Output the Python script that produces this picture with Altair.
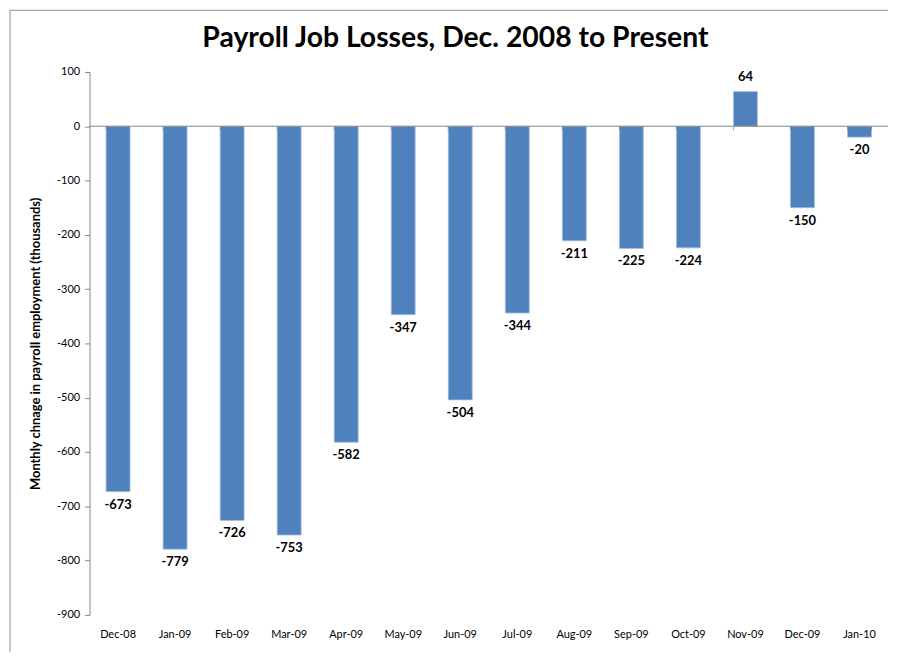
import altair as alt
import pandas as pd

months = ["Dec-08", "Jan-09", "Feb-09", "Mar-09", "Apr-09", "May-09", "Jun-09",
          "Jul-09", "Aug-09", "Sep-09", "Oct-09", "Nov-09", "Dec-09", "Jan-10"]
changes = [-673, -779, -726, -753, -582, -347, -504, -344, -211, -225, -224, 64, -150, -20]
y_ticks = list(range(-900, 101, 100))
title_text = ["Payroll Job Losses, Dec. 2008 to Present"]

df = pd.DataFrame({"month": months, "change": changes,
                   "label": [str(v) for v in changes]})
title_df = pd.DataFrame({"title": title_text})

FONT = "Lato"
W, H = 803, 546
GRAY = "#868686"

x_scale = alt.Scale(domain=months, paddingInner=0.58, paddingOuter=0.29)
y_scale = alt.Scale(domain=[-900, 100], nice=False, zero=False)

x_axis = alt.Axis(title=None, domain=False, ticks=False, labelAngle=0,
                  labelFont=FONT, labelFontSize=11, labelColor="#000000",
                  labelPadding=14, grid=False)
y_axis = alt.Axis(title="Monthly chnage in payroll employment (thousands)",
                  values=y_ticks, labelExpr="datum.value + ''", grid=False,
                  domainColor=GRAY, tickColor=GRAY, tickSize=5,
                  labelFont=FONT, labelFontSize=11, labelColor="#000000", labelPadding=5,
                  titleFont=FONT, titleFontSize=13, titleFontWeight="bold",
                  titleColor="#000000", titlePadding=14)

X = alt.X("month:N", scale=x_scale, sort=months, axis=x_axis)
Y = alt.Y("change:Q", scale=y_scale, axis=y_axis)

bars = alt.Chart(df).mark_bar(color="#4F81BD", stroke="#A7C0DE", strokeWidth=0.8).encode(
    x=X, y=Y, y2=alt.datum(0),
)

zero_line = alt.Chart(title_df).mark_rule(color=GRAY, strokeWidth=1).encode(
    x=alt.value(0), x2=alt.value(W), y=alt.datum(0),
)

band_ticks = alt.Chart(df).mark_tick(color=GRAY, orient="vertical", size=4,
                                     thickness=1, yOffset=2).encode(
    x=alt.X("month:N", scale=x_scale, sort=months, bandPosition=0),
    y=alt.datum(0),
)

end_tick = alt.Chart(df).transform_filter(f"datum.month == '{months[-1]}'").mark_tick(
    color=GRAY, orient="vertical", size=4, thickness=1, yOffset=2).encode(
    x=alt.X("month:N", scale=x_scale, sort=months, bandPosition=1),
    y=alt.datum(0),
)

neg_labels = alt.Chart(df).transform_filter("datum.change < 0").mark_text(
    font=FONT, fontSize=13, fontWeight="bold", color="#000000", baseline="middle", dy=13
).encode(
    x=alt.X("month:N", scale=x_scale, sort=months),
    y=alt.Y("change:Q", scale=y_scale),
    text="label:N",
)

pos_labels = alt.Chart(df).transform_filter("datum.change >= 0").mark_text(
    font=FONT, fontSize=13, fontWeight="bold", color="#000000", baseline="middle", dy=-15
).encode(
    x=alt.X("month:N", scale=x_scale, sort=months),
    y=alt.Y("change:Q", scale=y_scale),
    text="label:N",
)

frame_top = alt.Chart(title_df).mark_rule(color="#8C8C8C", strokeWidth=1, clip=False).encode(
    x=alt.value(-80), x2=alt.value(W), y=alt.value(-62)
)
frame_left = alt.Chart(title_df).mark_rule(color="#8C8C8C", strokeWidth=1, clip=False).encode(
    x=alt.value(-80), y=alt.value(-62), y2=alt.value(H + 40)
)

title = alt.Chart(title_df).mark_text(font=FONT, fontSize=28.5, fontWeight="bold",
                                      color="#000000", align="center",
                                      baseline="alphabetic").encode(
    text="title:N", x=alt.value(368), y=alt.value(-25.5)
)

chart = alt.layer(bars, zero_line, band_ticks, end_tick, neg_labels, pos_labels,
                  frame_top, frame_left, title).properties(
    width=W, height=H,
    background="#ffffff",
    autosize=alt.AutoSizeParams(type="none"),
    padding={"left": 82, "top": 62.5, "right": 2, "bottom": 35},
).configure_view(stroke="transparent", strokeWidth=0).configure_axis(grid=False)

chart.save("out.html", embed_options={"renderer": "svg", "actions": False})
